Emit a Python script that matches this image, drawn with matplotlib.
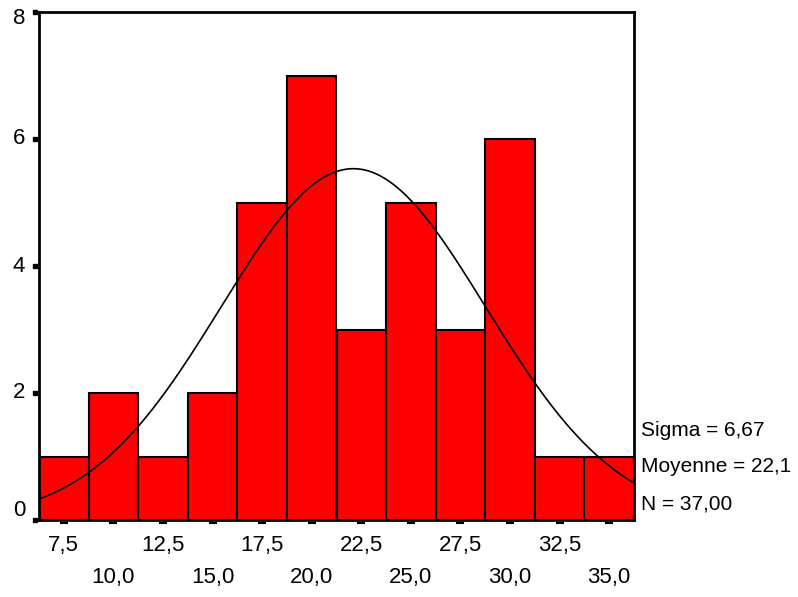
import numpy as np
import matplotlib
matplotlib.use("Agg")
import matplotlib.pyplot as plt
from matplotlib.transforms import blended_transform_factory, ScaledTranslation

plt.rcParams['font.family'] = ['Liberation Sans', 'DejaVu Sans']

bin_centers = [7.5, 10.0, 12.5, 15.0, 17.5, 20.0, 22.5, 25.0, 27.5, 30.0, 32.5, 35.0]
counts = [1, 2, 1, 2, 5, 7, 3, 5, 3, 6, 1, 1]
tick_labels = ["7,5", "10,0", "12,5", "15,0", "17,5", "20,0", "22,5", "25,0", "27,5", "30,0", "32,5", "35,0"]
y_ticks = [0, 2, 4, 6, 8]
sigma = 6.67
mean = 22.1
n = 37
bin_width = 2.5
stats_lines = ["Sigma = 6,67", "Moyenne = 22,1", "N = 37,00"]

fig = plt.figure(figsize=(7.98, 5.97), dpi=100)
W, H = 798, 597
left, right, top, bottom = 39, 634, 12, 520
ax = fig.add_axes([left / W, 1 - bottom / H, (right - left) / W, (bottom - top) / H])

ax.bar(bin_centers, counts, width=bin_width, color='#ff0000', edgecolor='black', linewidth=1.5, zorder=2)

xs = np.linspace(bin_centers[0] - bin_width / 2, bin_centers[-1] + bin_width / 2, 400)
ys = n * bin_width / (sigma * np.sqrt(2 * np.pi)) * np.exp(-(xs - mean) ** 2 / (2 * sigma ** 2))
ax.plot(xs, ys, color='black', linewidth=1.2, zorder=3)

ax.set_xlim(bin_centers[0] - bin_width / 2, bin_centers[-1] + bin_width / 2)
ax.set_ylim(0, 8)
ax.set_xticks([])
ax.set_yticks([])
for sp in ax.spines.values():
    sp.set_linewidth(2)
    sp.set_color('black')

# y tick marks (small squares, offset left) and labels
ytr = blended_transform_factory(ax.transAxes, ax.transData)
off_y = ytr + ScaledTranslation(-4.5 / 100, 0, fig.dpi_scale_trans)
label_shift = {0: 10, 8: -6}
for yv in y_ticks:
    ax.plot([0], [yv], marker='s', markersize=3.5, color='black', transform=off_y, clip_on=False)
    dy = label_shift.get(yv, 0)
    ax.text(0, yv, str(yv), transform=ytr + ScaledTranslation(-14 / 100, dy / 100, fig.dpi_scale_trans),
            ha='right', va='center', fontsize=16)

# x tick marks (small dashes below axis) and staggered labels
xtr = blended_transform_factory(ax.transData, ax.transAxes)
off_x = xtr + ScaledTranslation(0, -3 / 100, fig.dpi_scale_trans)
for i, (xc, lab) in enumerate(zip(bin_centers, tick_labels)):
    ax.plot([xc], [0], marker='_', markersize=6, markeredgewidth=1.5, color='black', transform=off_x, clip_on=False)
    dy = -25 if i % 2 == 0 else -57
    ax.text(xc, 0, lab, transform=xtr + ScaledTranslation(0, dy / 100, fig.dpi_scale_trans),
            ha='center', va='center', fontsize=16)

# stats text
for j, (s, yp) in enumerate(zip(stats_lines, [430, 466, 504])):
    fig.text(641 / W, 1 - yp / H, s, ha='left', va='center', fontsize=15)

fig.savefig("out.png", dpi=100)
